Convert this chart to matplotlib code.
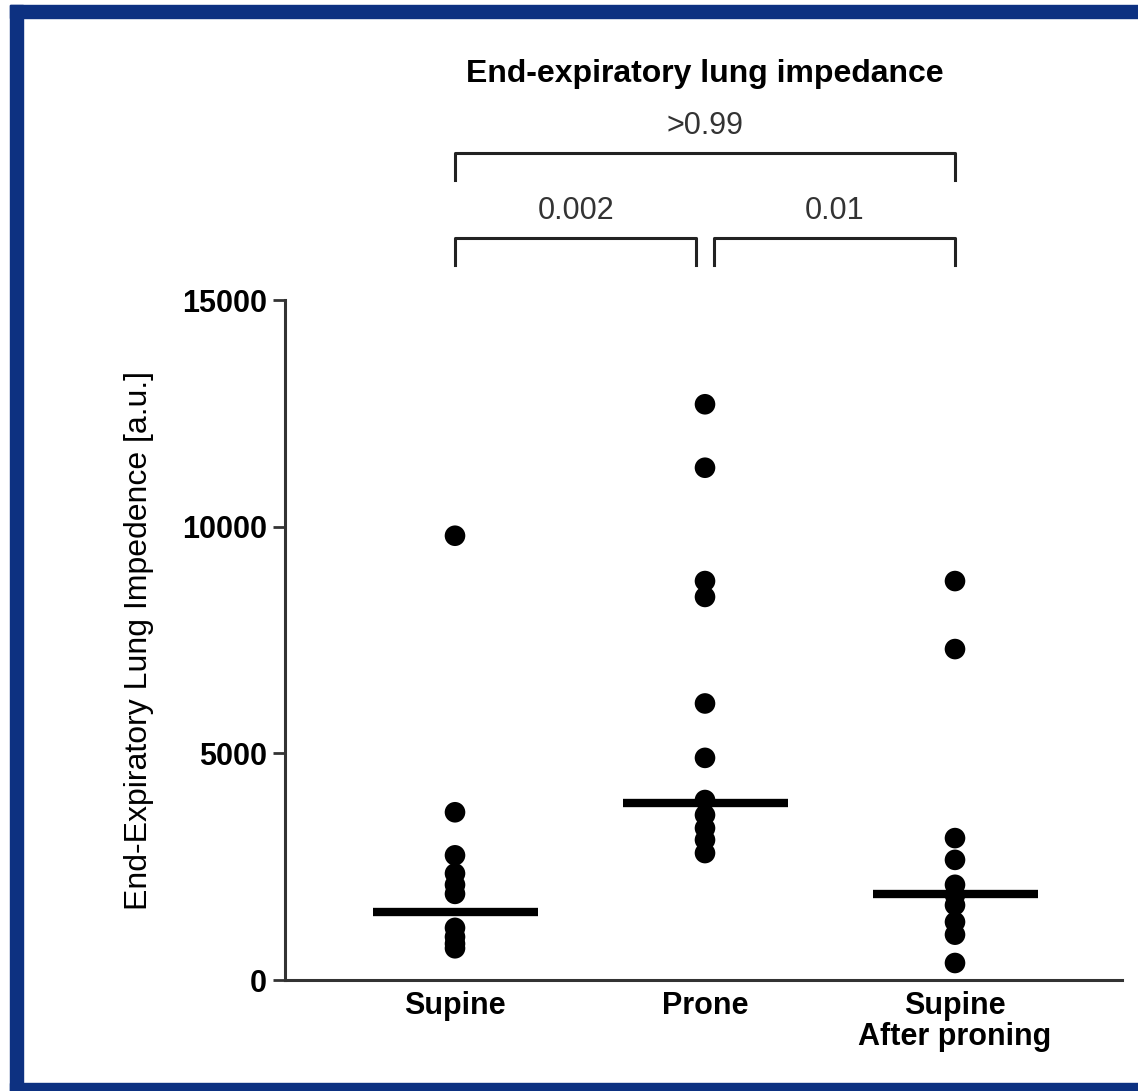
import matplotlib
matplotlib.use("Agg")
import matplotlib.pyplot as plt
from matplotlib.patches import Rectangle

plt.rcParams["font.family"] = ["Liberation Sans", "DejaVu Sans"]

# ── data ──
groups = ["Supine", "Prone", "Supine\nAfter proning"]
supine = [9800, 3700, 2750, 2350, 2100, 1900, 1150, 950, 800, 700]
prone = [12700, 11300, 8800, 8450, 6100, 4900, 3970, 3640, 3350, 3090, 2800]
after_proning = [8800, 7300, 3130, 2650, 2100, 1875, 1650, 1280, 1000, 375]
medians = [1500, 3900, 1900]

# comparisons: (group a, group b, p-value label, level)
comparisons = [(0, 1, "0.002", 0), (1, 2, "0.01", 0), (0, 2, ">0.99", 1)]

series = [supine, prone, after_proning]

fig = plt.figure(figsize=(11.38, 10.91), dpi=100)
W, H = 1138, 1091

# blue frame
frame_col = "#0d3181"
fig.patches.append(Rectangle((10 / W, 1 - 18 / H), 1 - 10 / W, 13 / H,
                             transform=fig.transFigure, color=frame_col, zorder=0))
fig.patches.append(Rectangle((10 / W, 1 - 1091 / H), 13 / W, (1091 - 5) / H,
                             transform=fig.transFigure, color=frame_col, zorder=0))
fig.patches.append(Rectangle((10 / W, 0), 1 - 10 / W, 8 / H,
                             transform=fig.transFigure, color=frame_col, zorder=0))

ax = fig.add_axes([285 / W, 1 - 980 / H, (1122 - 285) / W, 680 / H])

for i, vals in enumerate(series):
    ax.scatter([i] * len(vals), vals, s=220, color="black", edgecolors="none",
               zorder=3, clip_on=False)
    ax.plot([i - 0.33, i + 0.33], [medians[i], medians[i]], color="black",
            lw=6, solid_capstyle="butt", zorder=4)

ax.set_xlim(-0.68, 2.668)
ax.set_ylim(0, 15000)
ax.set_yticks([0, 5000, 10000, 15000])
ax.set_yticklabels(["0", "5000", "10000", "15000"], fontsize=22, fontweight="bold")
ax.set_xticks(range(len(groups)))
ax.set_xticklabels(groups, fontsize=22, fontweight="bold", linespacing=1.05)
ax.tick_params(axis="x", length=0, pad=8)
ax.tick_params(axis="y", length=9, width=2, pad=4, color="#333333")

for s in ["top", "right"]:
    ax.spines[s].set_visible(False)
ax.spines["left"].set_linewidth(2.2)
ax.spines["bottom"].set_linewidth(2.2)
ax.spines["left"].set_color("#333333")
ax.spines["bottom"].set_color("#333333")

ax.set_ylabel("End-Expiratory Lung Impedence [a.u.]", fontsize=23, labelpad=20)

# significance brackets above the plot
for a, b, label, level in comparisons:
    top = 16370 if level == 0 else 18240
    drop = 600
    xa, xb = a, b
    if level == 0:
        if a == 1:
            xa = a + 0.035
        if b == 1:
            xb = b - 0.035
    ax.plot([xa, xa, xb, xb], [top - drop, top, top, top - drop], color="#222222",
            lw=2.2, clip_on=False)
    ax.text((xa + xb) / 2, top + 600, label, ha="center", va="center",
            fontsize=22, color="#333333", clip_on=False)

ax.text(1, 19980, "End-expiratory lung impedance", ha="center", va="center",
        fontsize=23, fontweight="bold", clip_on=False)

fig.savefig("out.png", dpi=100, facecolor="white")
